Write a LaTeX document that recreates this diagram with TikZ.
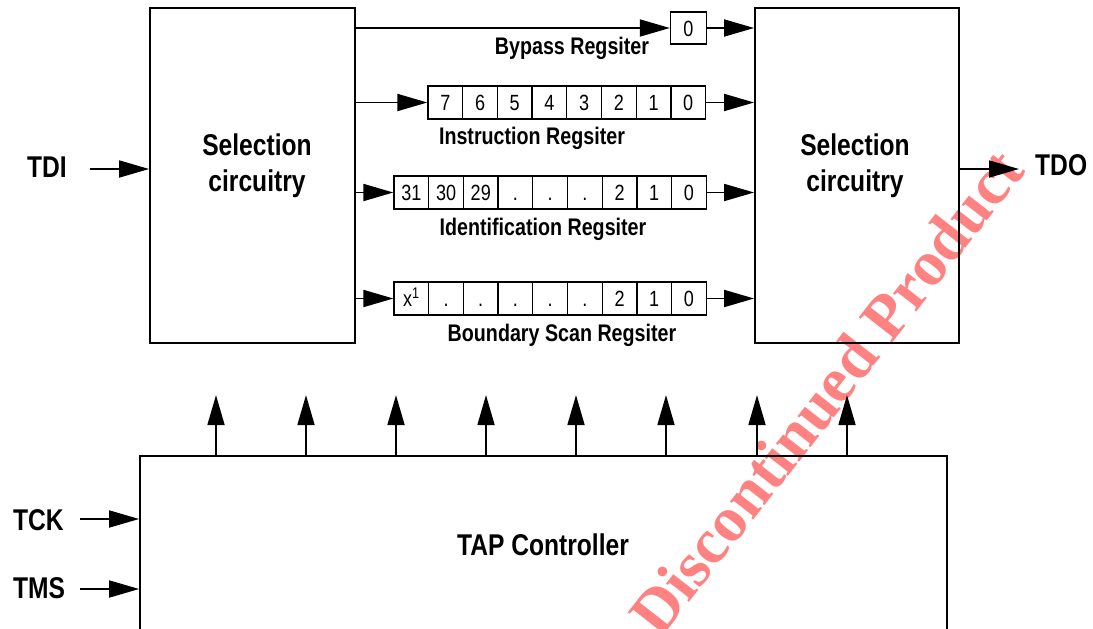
\documentclass[tikz,border=0pt]{standalone}
\usepackage{fontspec}
\setmainfont{Liberation Sans}[FakeStretch=0.82]
\newfontfamily\wmfont{Liberation Serif}[BoldFont=* Bold]
\usetikzlibrary{arrows.meta,calc}
\definecolor{wmred}{RGB}{255,130,130}
\tikzset{
  blk/.style={draw, line width=1.8pt, inner sep=0pt, minimum width=#1},
  cell/.style={draw, line width=1.3pt, minimum width=34.7pt, minimum height=33pt, inner sep=0pt, text height=16pt, text depth=0pt, font=\fontsize{22}{24}\selectfont},
  arr/.style={line width=1.8pt, -{Triangle[length=30pt,width=17pt]}},
  big/.style={font=\fontsize{30}{32}\selectfont\bfseries, inner sep=0pt},
  reglab/.style={font=\fontsize{24}{26}\selectfont\bfseries, inner sep=0pt, anchor=base},
}
\begin{document}
\begin{tikzpicture}[x=1pt,y=-1pt]
\clip (0,0) rectangle (1093,629);
\fill[white] (0,0) rectangle (1093,629);
% boxes
\node[blk=205pt, minimum height=335pt] (selL) at (252.5,175.5) {};
\node[blk=204pt, minimum height=335pt] (selR) at (857,175.5) {};
\node[blk=807pt, minimum height=244pt] (tap) at (543.5,578) {};
% box texts
\node[big, anchor=base] (sl1) at (257,155) {Selection};
\node[big, anchor=base] (sl2) at (257,191) {circuitry};
\node[big, anchor=base] (sr1) at (855,155) {Selection};
\node[big, anchor=base] (sr2) at (855,191) {circuitry};
\node[big, anchor=base] (tapt) at (543,555) {TAP Controller};
% pins
\node[big, anchor=base west] (tdi) at (27,177) {TDI};
\node[big, anchor=base west] (tck) at (13,530) {TCK};
\node[big, anchor=base west] (tms) at (13,598) {TMS};
\node[big, anchor=base west] (tdo) at (1035,175) {TDO};
\coordinate (tdiS) at (90,169);
\coordinate (tckS) at (80,519);
\coordinate (tmsS) at (80,589);
\coordinate (tdoE) at (1019,169);
\draw[arr] (tdiS) -- (selL.west |- tdiS);
\draw[arr] (tckS) -- (tap.west |- tckS);
\draw[arr] (tmsS) -- (tap.west |- tmsS);
\draw[arr] (selR.east |- tdoE) -- (tdoE);
% bypass register
\node[cell, minimum width=36pt, minimum height=32pt] (bp) at (688.5,28) {0};
\draw[arr] (selL.east |- bp.west) -- (bp.west);
\draw[arr] (bp.east) -- (selR.west |- bp.east);
\node[reglab] (bpl) at (572,54) {Bypass Regsiter};
% instruction register
\foreach \t [count=\i from 0] in {7,6,5,4,3,2,1,0}
  \node[cell] (ir\i) at (428+17.35+34.7*\i,102.5) {\t};
\draw[arr] (selL.east |- ir0.west) -- (ir0.west);
\draw[arr] (ir7.east) -- (selR.west |- ir7.east);
\node[reglab] (irl) at (532,144) {Instruction Regsiter};
% identification register
\foreach \t [count=\i from 0] in {31,30,29,.,.,.,2,1,0}
  \node[cell] (id\i) at (394+17.35+34.7*\i,192.5) {\t};
\draw[arr] (selL.east |- id0.west) -- (id0.west);
\draw[arr] (id8.east) -- (selR.west |- id8.east);
\node[reglab] (idl) at (543,235) {Identification Regsiter};
% boundary scan register
\foreach \t [count=\i from 0] in {x\textsuperscript{1},.,.,.,.,.,2,1,0}
  \node[cell] (bs\i) at (394+17.35+34.7*\i,298.5) {\t};
\draw[arr] (selL.east |- bs0.west) -- (bs0.west);
\draw[arr] (bs8.east) -- (selR.west |- bs8.east);
\node[reglab] (bsl) at (562,341) {Boundary Scan Regsiter};
% control arrows
\foreach \x in {216,306,396,486,576,666,757,847}
  \draw[arr] (tap.north -| \x,0) -- ++(0,-60);
% watermark
\begin{scope}[blend mode=multiply]
\node[rotate=52, text=wmred, font=\wmfont\bfseries\fontsize{64}{66}\selectfont, inner sep=0pt] (wm) at (826,392) {Discontinued Product};
\end{scope}
\end{tikzpicture}
\end{document}
